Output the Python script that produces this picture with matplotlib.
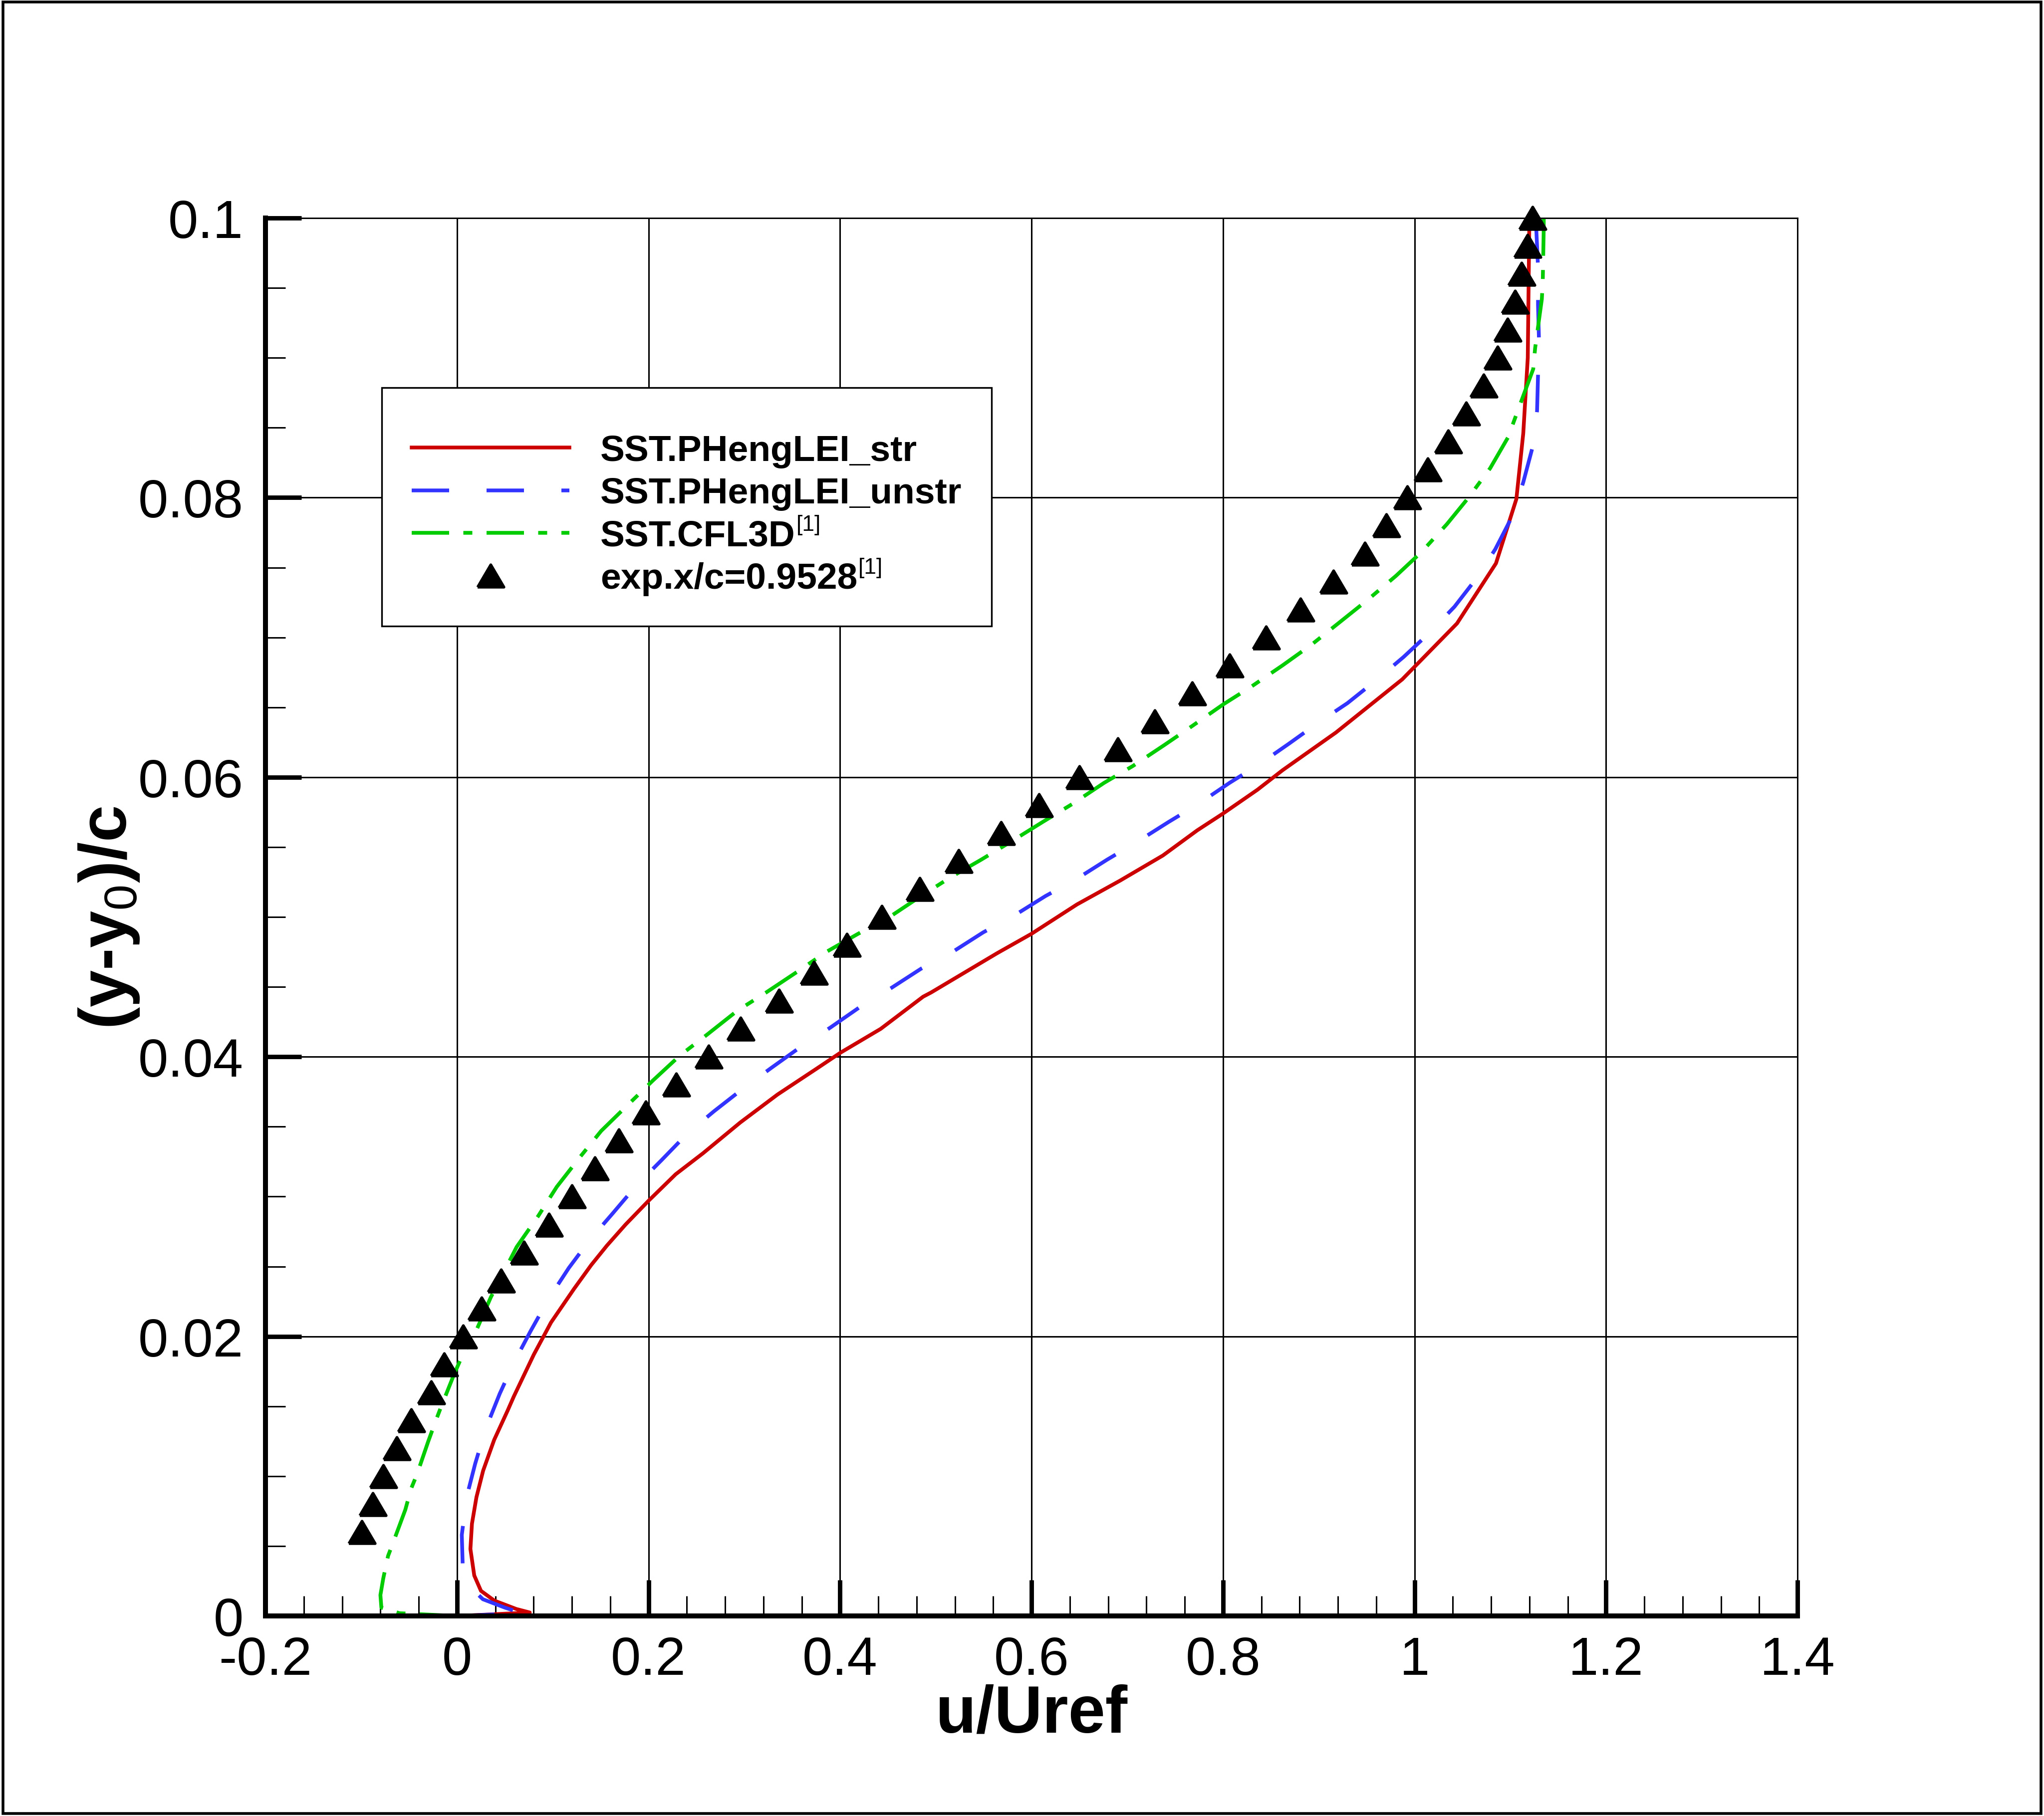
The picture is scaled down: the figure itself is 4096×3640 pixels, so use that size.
import matplotlib
matplotlib.use('Agg')
import matplotlib.pyplot as plt
from matplotlib.ticker import MultipleLocator, AutoMinorLocator, FuncFormatter
from matplotlib.patches import Rectangle
from matplotlib.transforms import IdentityTransform

plt.rcParams['font.family'] = ['Liberation Sans', 'DejaVu Sans']
plt.rcParams['mathtext.fontset'] = 'custom'
plt.rcParams['mathtext.rm'] = 'Liberation Sans'
plt.rcParams['mathtext.it'] = 'Liberation Sans:italic'
plt.rcParams['mathtext.bf'] = 'Liberation Sans:bold'
plt.rcParams['axes.unicode_minus'] = False

# SST.PHengLEI_str (structured grid)
str_u = [0.0, 0.076, 0.062, 0.039, 0.025, 0.018, 0.014, 0.0156, 0.0203, 0.0273, 0.0388,
         0.0529, 0.0593, 0.0802, 0.0982, 0.1222, 0.1401, 0.1566, 0.176, 0.2, 0.2284,
         0.2569, 0.2958, 0.3347, 0.3766, 0.4006, 0.4425, 0.4868, 0.4951, 0.5638, 0.6,
         0.6475, 0.6924, 0.7372, 0.7731, 0.8, 0.8359, 0.8622, 0.918, 0.9872, 1.0444,
         1.0851, 1.1064, 1.1136, 1.1183, 1.12]
str_y = [0.0, 0.00025, 0.0005, 0.0011, 0.0018, 0.0029, 0.0048, 0.0066, 0.0085, 0.0104, 0.0126,
         0.0147, 0.0157, 0.0187, 0.021, 0.0234, 0.0251, 0.0265, 0.028, 0.0297, 0.0316,
         0.0331, 0.0353, 0.0373, 0.0392, 0.0403, 0.042, 0.0443, 0.0446, 0.0474, 0.0488,
         0.0509, 0.0526, 0.0544, 0.0562, 0.0574, 0.0591, 0.0605, 0.0632, 0.067, 0.071,
         0.0753, 0.0799, 0.0846, 0.09, 0.1]

# SST.PHengLEI_unstr (unstructured grid)
unstr_u = [0.0, 0.068, 0.05, 0.027, 0.012, 0.006, 0.005, 0.01, 0.019, 0.03, 0.0446, 0.06,
           0.077, 0.0958, 0.1168, 0.1386, 0.1626, 0.1874, 0.2135, 0.2404, 0.2683, 0.2982,
           0.3281, 0.3587, 0.3901, 0.4216, 0.453, 0.4846, 0.5175, 0.5495, 0.5818, 0.6146,
           0.6466, 0.6789, 0.7109, 0.7432, 0.7746, 0.8069, 0.8374, 0.8689, 0.8995, 0.93,
           0.9593, 0.9886, 1.0152, 1.0418, 1.0644, 1.0843, 1.1016, 1.1136, 1.1229, 1.128,
           1.129, 1.13, 1.129, 1.129, 1.127]
unstr_y = [0.0, 0.0002, 0.0006, 0.0012, 0.0022, 0.0035, 0.0058, 0.0085, 0.0109, 0.0134, 0.0159, 0.0182,
           0.0204, 0.0227, 0.0249, 0.0269, 0.0288, 0.0308, 0.0326, 0.0345, 0.0361, 0.0377,
           0.0392, 0.0407, 0.0421, 0.0436, 0.0449, 0.0463, 0.0475, 0.0489, 0.0501, 0.0515,
           0.0527, 0.0541, 0.0554, 0.0568, 0.0581, 0.0596, 0.0609, 0.0624, 0.0639, 0.0653,
           0.0669, 0.0686, 0.0703, 0.0722, 0.0742, 0.0763, 0.0786, 0.0811, 0.0835, 0.0862,
           0.0887, 0.0913, 0.0938, 0.0965, 0.0995]

# SST.CFL3D [1]
cfl_u = [0.0, -0.06, -0.079, -0.08, -0.077, -0.072, -0.067, -0.054, -0.048, -0.042, -0.03,
         -0.022, -0.017, -0.003, 0.006, 0.0174, 0.0353, 0.0623, 0.0847, 0.1042, 0.1281,
         0.1506, 0.179, 0.2045, 0.2329, 0.2614, 0.2928, 0.3228, 0.3557, 0.3856, 0.4189,
         0.4517, 0.4846, 0.5145, 0.5474, 0.5788, 0.6117, 0.643, 0.6759, 0.7058, 0.7387,
         0.7686, 0.8, 0.83, 0.8622, 0.8928, 0.9221, 0.9513, 0.9806, 1.0072, 1.0338, 1.0564,
         1.079, 1.0976, 1.111, 1.124, 1.126, 1.133, 1.134, 1.135, 1.135]
cfl_y = [0.0, 0.0002, 0.0006, 0.0015, 0.0027, 0.0043, 0.0052, 0.0076, 0.0091, 0.0101, 0.0125,
         0.014, 0.0149, 0.0173, 0.0187, 0.02, 0.0228, 0.0264, 0.0286, 0.0307, 0.0328,
         0.0347, 0.0366, 0.0383, 0.0401, 0.0416, 0.0433, 0.0446, 0.0461, 0.0475, 0.0488,
         0.05, 0.0515, 0.0528, 0.0541, 0.0554, 0.0568, 0.0581, 0.0596, 0.0608, 0.0623,
         0.0637, 0.0652, 0.0665, 0.068, 0.0695, 0.0711, 0.0727, 0.0744, 0.0761, 0.0781, 0.08,
         0.0821, 0.0843, 0.0868, 0.0892, 0.0907, 0.0942, 0.0956, 0.0994, 0.1]

# experiment, x/c = 0.9528 [1]
exp_u = [-0.0996, -0.0882, -0.0768, -0.063, -0.0476, -0.0272, -0.0134, 0.0063, 0.0256, 0.046,
         0.07, 0.096, 0.12, 0.144, 0.169, 0.197, 0.229, 0.263, 0.296, 0.336, 0.373, 0.407,
         0.4434, 0.4831, 0.5241, 0.5683, 0.6078, 0.6499, 0.6903, 0.7289, 0.768, 0.8069,
         0.845, 0.8809, 0.9154, 0.9479, 0.9707, 0.9926, 1.0138, 1.035, 1.054, 1.072, 1.087,
         1.097, 1.105, 1.112, 1.118, 1.123]
exp_y = [0.006, 0.008, 0.010, 0.012, 0.014, 0.016, 0.018, 0.020, 0.022, 0.024, 0.026, 0.028,
         0.030, 0.032, 0.034, 0.036, 0.038, 0.040, 0.042, 0.044, 0.046, 0.048, 0.050, 0.052,
         0.054, 0.056, 0.058, 0.060, 0.062, 0.064, 0.066, 0.068, 0.070, 0.072, 0.074, 0.076,
         0.078, 0.080, 0.082, 0.084, 0.086, 0.088, 0.090, 0.092, 0.094, 0.096, 0.098, 0.100]

labels = ['SST.PHengLEI_str', 'SST.PHengLEI_unstr', 'SST.CFL3D', 'exp.x/c=0.9528']
refs = ['', '', '[1]', '[1]']   # reference marks written as superscripts

fig = plt.figure(figsize=(10.24, 9.1025), dpi=400)
ax = fig.add_axes([0.1299, 0.1101, 0.7495, 0.7696])

tri = [(-1, -0.85), (1, -0.85), (0, 0.85), (-1, -0.85)]

ax.plot(str_u, str_y, color='#cc0000', lw=1.35, label=labels[0])
ax.plot(unstr_u, unstr_y, color='#3333ff', lw=1.35, dashes=(10, 10), label=labels[1])
ax.plot(cfl_u, cfl_y, color='#00cc00', lw=1.35, dashes=(10, 3.8, 2.4, 3.8), label=labels[2])
ax.plot(exp_u, exp_y, ls='none', marker=tri, ms=9.5, color='k', clip_on=False,
        label=labels[3])

ax.set_xlim(-0.2, 1.4)
ax.set_ylim(0, 0.1)
ax.xaxis.set_major_locator(MultipleLocator(0.2))
ax.xaxis.set_minor_locator(AutoMinorLocator(5))
ax.yaxis.set_major_locator(MultipleLocator(0.02))
ax.yaxis.set_minor_locator(AutoMinorLocator(4))
fmt = FuncFormatter(lambda v, p: f'{round(v, 6) + 0.0:g}')
ax.xaxis.set_major_formatter(fmt)
ax.yaxis.set_major_formatter(fmt)

ax.tick_params(which='major', direction='in', length=13, width=1.6, labelsize=19.5,
               top=False, right=False)
ax.tick_params(which='minor', direction='in', length=7.2, width=0.55,
               top=False, right=False)
ax.tick_params(axis='y', which='major', pad=8)
ax.tick_params(axis='x', which='major', pad=7)

ax.grid(True, which='major', color='k', lw=0.55)
ax.set_axisbelow(True)
for s in ['left', 'bottom']:
    ax.spines[s].set_linewidth(1.8)
for s in ['top', 'right']:
    ax.spines[s].set_linewidth(0.5)

ax.set_xlabel('u/Uref', fontsize=24, fontweight='bold', va='center')
ax.xaxis.set_label_coords(0.5, -0.0705)
ax.set_ylabel(r'(y-y$_0$)/c', fontsize=24, fontweight='bold', va='center')
ax.yaxis.set_label_coords(-0.1023, 0.5)

leg_font = dict(family='Liberation Sans', weight='bold', size=13.2)
leg = ax.legend(loc='upper left', bbox_to_anchor=(0.0759, 0.8787), borderaxespad=0,
                prop=leg_font, handlelength=4.3, handletextpad=0.85, borderpad=0.82,
                labelspacing=0.24, fancybox=False, edgecolor='k', framealpha=1,
                numpoints=1, title=' ', title_fontsize=2.8)
leg.get_frame().set_linewidth(0.6)

# superscript reference marks after the legend labels
fig.canvas.draw()
renderer = fig.canvas.get_renderer()
em = 13.2 * fig.dpi / 72
for t, r in zip(leg.get_texts(), refs):
    if not r:
        continue
    bb = t.get_window_extent(renderer)
    _, _, d = renderer.get_text_width_height_descent('lp', t.get_fontproperties(), ismath=False)
    base = bb.y0 + d
    fig.text(bb.x1 + 0.03 * em, base + 0.42 * em, r, transform=IdentityTransform(),
             fontsize=8, family='Liberation Sans', ha='left', va='baseline')

fig.add_artist(Rectangle((0.0015, 0.0015), 0.997, 0.997, transform=fig.transFigure,
                         fill=False, lw=1.0, ec='k'))

fig.savefig('out.png', dpi=400)
